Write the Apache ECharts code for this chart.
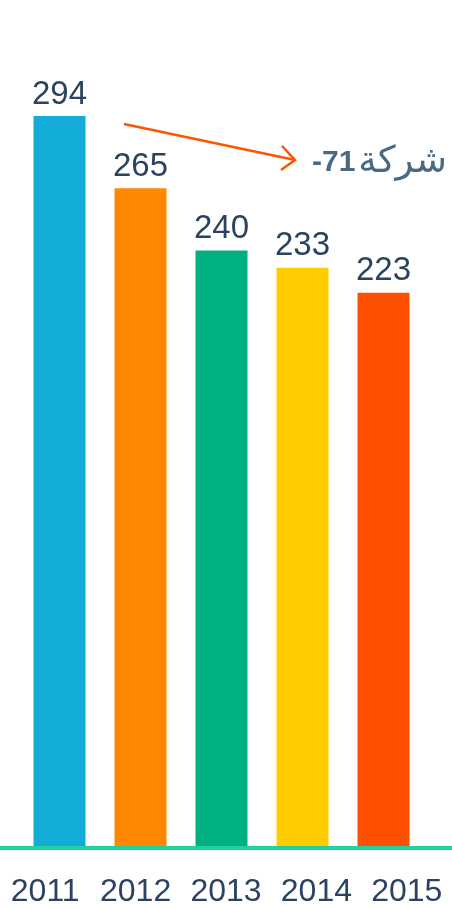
<!DOCTYPE html>
<html>
<head>
<meta charset="utf-8">
<script src="https://cdn.jsdelivr.net/npm/echarts@6/dist/echarts.min.js"></script>
<style>
html,body{margin:0;padding:0;background:#fff;}
#chart{width:452px;height:909px;}
</style>
</head>
<body>
<div id="chart"></div>
<script>
const categories = ['2011', '2012', '2013', '2014', '2015'];
const values = [294, 265, 240, 233, 223];
const barColors = ['#12acd6', '#ff8800', '#00b083', '#ffcc00', '#ff5000'];
const noteNumber = '-71';
const noteWord = 'شركة';

const FONT = '"Liberation Sans", Arial, sans-serif';
const chart = echarts.init(document.getElementById('chart'), null, {renderer: 'canvas'});
chart.setOption({
  animation: false,
  backgroundColor: '#ffffff',
  grid: [
    {left: 19, right: 28, top: 101, bottom: 61},
    {left: 0, right: 0, top: 101, bottom: 61}
  ],
  xAxis: [
    {type: 'category', gridIndex: 0, data: categories,
     axisLine: {show: false}, axisTick: {show: false}, axisLabel: {show: false}},
    {type: 'category', gridIndex: 1, data: categories,
     axisLine: {show: true, lineStyle: {color: '#1ed3a0', width: 4}},
     axisTick: {show: false},
     axisLabel: {show: true, interval: 0, hideOverlap: false, color: '#2b4360',
                 fontSize: 32, fontFamily: FONT, margin: 28},
     z: 5}
  ],
  yAxis: [
    {type: 'value', gridIndex: 0, min: 0, max: 300, show: false},
    {type: 'value', gridIndex: 1, min: 0, max: 300, show: false}
  ],
  series: [{
    type: 'bar',
    xAxisIndex: 0, yAxisIndex: 0,
    barWidth: 52,
    data: values.map((v, i) => ({value: v, itemStyle: {color: barColors[i]}})),
    label: {show: true, position: 'top', distance: 5, color: '#2b4360',
            fontSize: 33, fontFamily: FONT}
  }],
  graphic: [
    {type: 'polyline', shape: {points: [[124, 124], [295, 160]]},
     style: {stroke: '#ff5500', lineWidth: 2.5, fill: null}},
    {type: 'polyline', shape: {points: [[282, 146], [295, 160], [281, 170]]},
     style: {stroke: '#ff5500', lineWidth: 2.5, fill: null}},
    {type: 'text', left: 312, top: 144,
     style: {
       text: '{b|' + noteNumber + '}{s| }{n|' + noteWord + '}',
       rich: {
         b: {fontSize: 30, fontWeight: 'bold', fill: '#4b6a82', fontFamily: FONT},
         s: {fontSize: 10, fill: '#4b6a82', fontFamily: FONT},
         n: {fontSize: 37, fill: '#4b6a82', fontFamily: '"DejaVu Sans", sans-serif'}
       }
     }}
  ]
});
</script>
</body>
</html>
